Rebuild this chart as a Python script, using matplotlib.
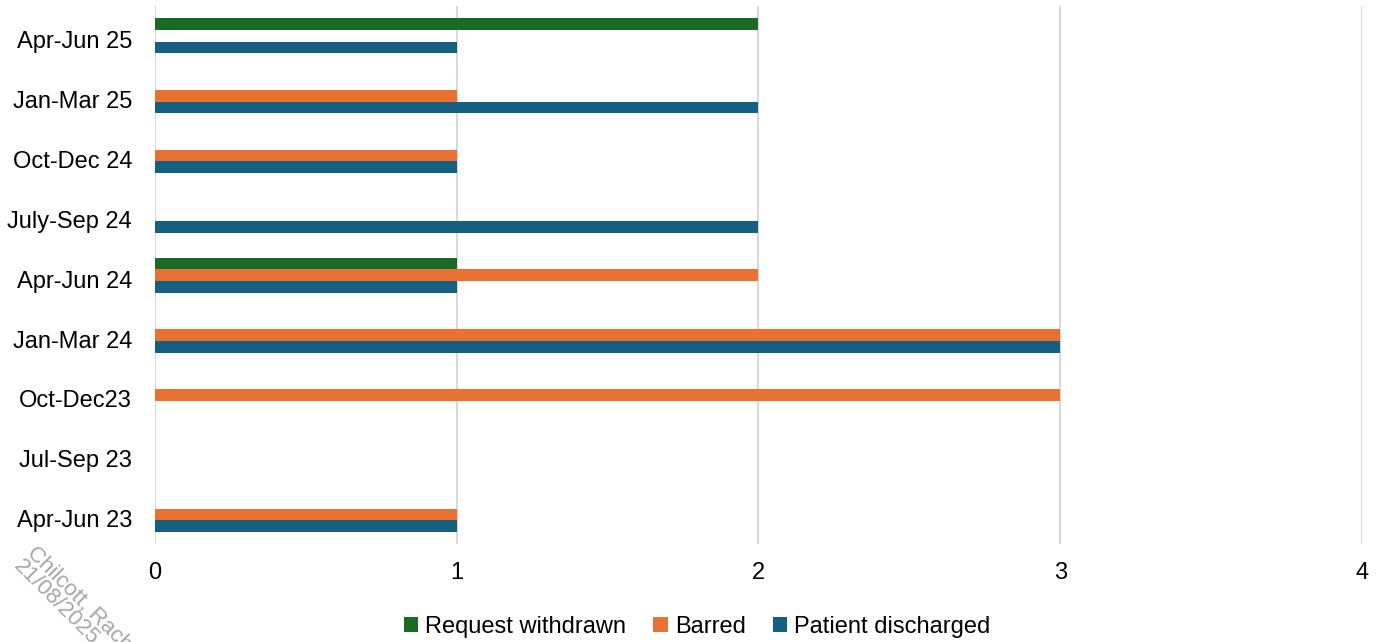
import matplotlib.pyplot as plt
import matplotlib.transforms as mtransforms
import numpy as np

# Quarters, listed top to bottom as in the chart
quarters = ['Apr-Jun 25', 'Jan-Mar 25', 'Oct-Dec 24', 'July-Sep 24', 'Apr-Jun 24',
            'Jan-Mar 24', 'Oct-Dec23', 'Jul-Sep 23', 'Apr-Jun 23']
request_withdrawn = [2, 0, 0, 0, 1, 0, 0, 0, 0]
barred = [0, 1, 1, 0, 2, 3, 3, 0, 1]
patient_discharged = [1, 2, 1, 2, 1, 3, 0, 0, 1]
x_ticks = [0, 1, 2, 3, 4]

plt.rcParams['font.family'] = ['Liberation Sans', 'DejaVu Sans']

fig = plt.figure(figsize=(13.86, 6.42), dpi=100)
ax = fig.add_axes([0.1118, 0.152, 0.8709, 0.8387])

# bottom-up positions
y = np.arange(len(quarters))[::-1]
h = 0.195

ax.barh(y + h, request_withdrawn, height=h, color='#196B24', label='Request withdrawn', zorder=3)
ax.barh(y, barred, height=h, color='#E97132', label='Barred', zorder=3)
ax.barh(y - h, patient_discharged, height=h, color='#156082', label='Patient discharged', zorder=3)

ax.set_xlim(0, 4)
ax.set_ylim(-0.5, len(quarters) - 0.5)
ax.set_xticks(x_ticks)
ax.set_yticks(y)
ax.set_yticklabels(quarters)
ax.tick_params(axis='both', length=0, labelsize=17)
ax.tick_params(axis='x', pad=13)
ax.tick_params(axis='y', pad=16.5)

# category labels sit a little below the bar groups
shift = mtransforms.ScaledTranslation(0, -4 / 100, fig.dpi_scale_trans)
for lbl in ax.get_yticklabels():
    lbl.set_transform(lbl.get_transform() + shift)

ax.grid(axis='x', color='#d9d9d9', linewidth=1.5, zorder=0)
for s in ax.spines.values():
    s.set_visible(False)

fig.legend(loc='center', bbox_to_anchor=(0.503, 1 - 627 / 642), ncol=3, frameon=False,
           fontsize=17, handlelength=0.6, handleheight=0.6, handletextpad=0.3,
           columnspacing=1.15)

# watermark
fig.text(37 / 1386, 1 - 543 / 642, 'Chilcott, Rachel\n21/08/2025', rotation=-45,
         rotation_mode='anchor', ha='left', va='top', fontsize=16, color='#a6a6a6',
         linespacing=0.85)

plt.savefig('out.png', dpi=100)
